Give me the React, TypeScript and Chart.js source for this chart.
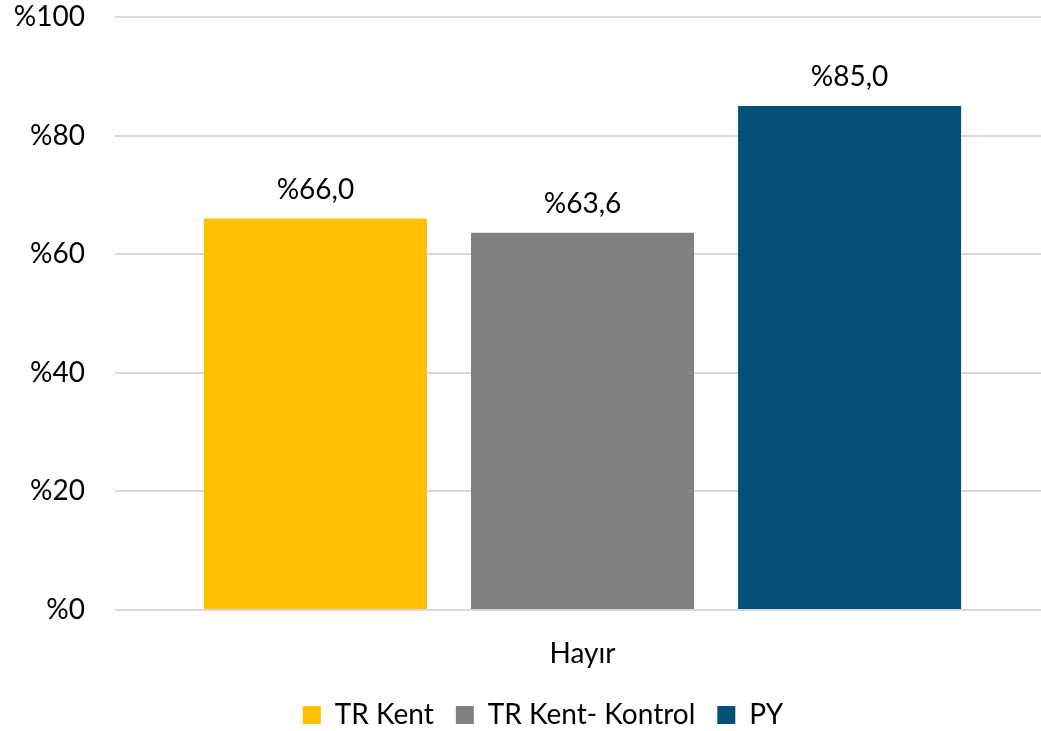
import React, { useEffect, useRef } from "react";
import { Chart, registerables } from "chart.js";

Chart.register(...registerables);

const categories = ["Hayır"];
const seriesNames = ["TR Kent", "TR Kent- Kontrol", "PY"];
const seriesValues = [[66.0], [63.6], [85.0]];
const seriesColors = ["#FFC000", "#808080", "#034F75"];
const yTicks = [0, 20, 40, 60, 80, 100];

const FONT = "Lato, 'Open Sans', sans-serif";

const dataLabelPlugin = {
  id: "dataLabels",
  afterDatasetsDraw(chart: any) {
    const ctx = chart.ctx;
    ctx.save();
    ctx.font = `28px ${FONT}`;
    ctx.fillStyle = "#000";
    ctx.textAlign = "center";
    ctx.textBaseline = "bottom";
    chart.data.datasets.forEach((ds: any, i: number) => {
      const meta = chart.getDatasetMeta(i);
      meta.data.forEach((bar: any, j: number) => {
        const v = ds.data[j] as number;
        ctx.fillText("%" + v.toFixed(1).replace(".", ","), bar.x, bar.y - 15);
      });
    });
    ctx.restore();
  },
};

const legendShiftPlugin = {
  id: "legendShift",
  afterLayout(chart: any) {
    const lg = chart.legend;
    if (!lg) return;
    const dx = 18;
    const dy = 8;
    lg.left += dx;
    lg.right += dx;
    lg.top += dy;
    lg.bottom += dy;
  },
};

export default function App() {
  const ref = useRef<HTMLCanvasElement>(null);
  useEffect(() => {
    document.body.style.margin = "0";
    const chart = new Chart(ref.current!, {
      type: "bar",
      data: {
        labels: categories,
        datasets: seriesNames.map((name, i) => ({
          label: name,
          data: seriesValues[i],
          backgroundColor: seriesColors[i],
          borderWidth: 0,
          categoryPercentage: 0.857,
          barPercentage: 0.835,
        })),
      },
      options: {
        responsive: false,
        animation: false,
        layout: { padding: { left: 0, top: 17, right: 0, bottom: 0 } },
        plugins: {
          tooltip: { enabled: false },
          legend: {
            position: "bottom",
            labels: {
              font: { family: FONT, size: 28 },
              color: "#000",
              boxWidth: 18,
              boxHeight: 18,
              padding: 22,
            },
          },
        },
        scales: {
          x: {
            grid: { display: false },
            border: { display: false },
            ticks: {
              font: { family: FONT, size: 28 },
              color: "#000",
              padding: 19,
            },
            afterFit: (s: any) => {
              s.height = 61;
              s.paddingLeft = 0;
              s.paddingRight = 0;
            },
          },
          y: {
            min: 0,
            max: 100,
            afterBuildTicks: (s: any) => {
              s.ticks = yTicks.map((v) => ({ value: v }));
            },
            grid: { color: "#D9D9D9", lineWidth: 2, drawTicks: false },
            border: { display: false },
            ticks: {
              font: { family: FONT, size: 28 },
              color: "#000",
              padding: 30,
              callback: (v: any) => "%" + v,
            },
            afterFit: (s: any) => {
              s.width = 115;
              s.paddingTop = 0;
              s.paddingBottom = 0;
            },
          },
        },
      },
      plugins: [dataLabelPlugin, legendShiftPlugin],
    });
    return () => chart.destroy();
  }, []);
  return (
    <div style={{ width: 1041, height: 731, overflow: "hidden", position: "relative" }}>
      <canvas ref={ref} width={1050} height={731} style={{ display: "block" }} />
    </div>
  );
}
